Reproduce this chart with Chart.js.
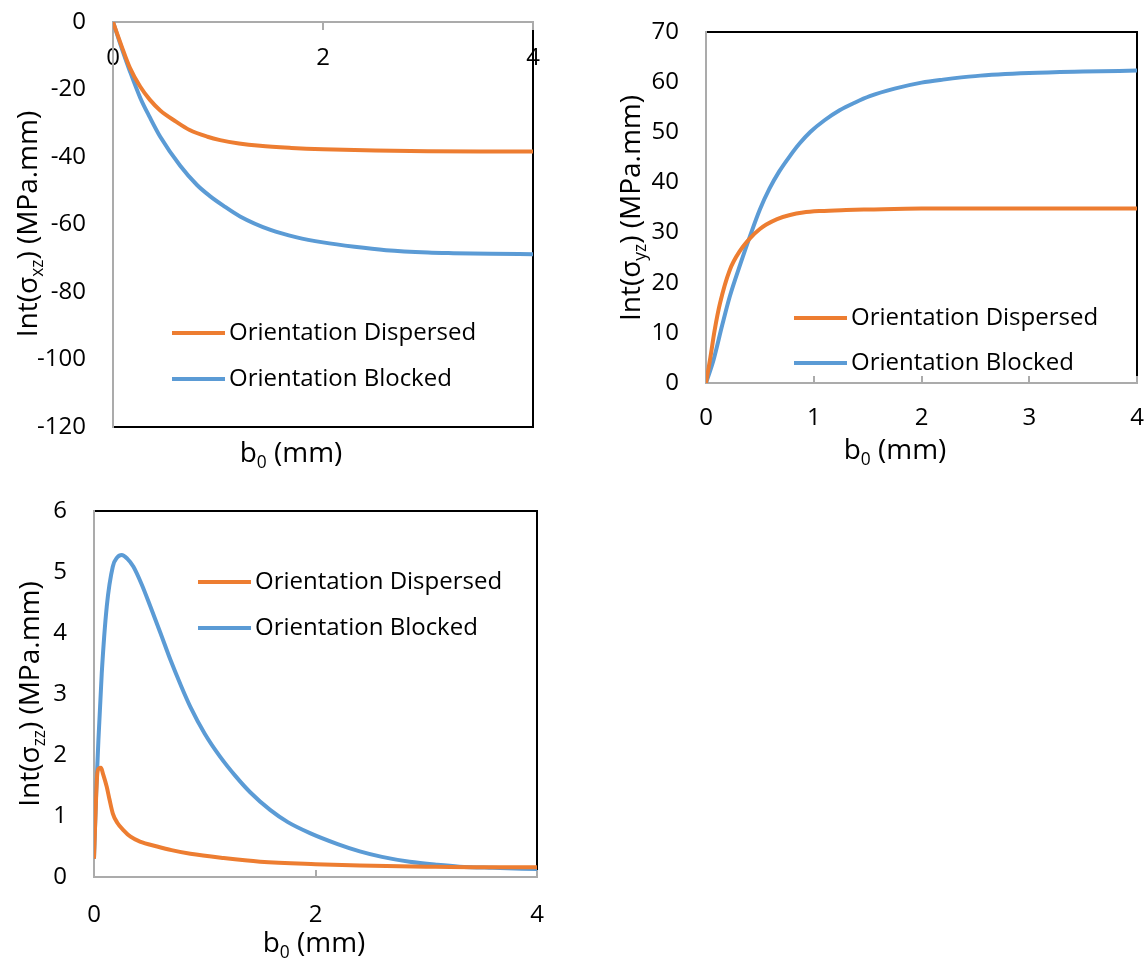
<!DOCTYPE html>
<html>
<head>
<meta charset="utf-8">
<script src="https://cdn.jsdelivr.net/npm/chart.js@4.4.1/dist/chart.umd.min.js"></script>
<style>
  body { margin: 0; background: #fff; width: 1148px; height: 959px; position: relative; overflow: hidden; }
  canvas { position: absolute; }
</style>
</head>
<body>
<canvas id="xzChart" width="560" height="470" style="left:0;top:0"></canvas>
<canvas id="yzChart" width="568" height="470" style="left:580px;top:0"></canvas>
<canvas id="zzChart" width="560" height="469" style="left:0;top:490px"></canvas>
<script>
// series labels
const seriesLabels = ['Orientation Dispersed', 'Orientation Blocked'];

// Int(sigma_xz)
const xzDispX = [0, 0.08, 0.16, 0.26, 0.35, 0.45, 0.6, 0.73, 0.9, 1.02, 1.2, 1.4, 1.7, 2.0, 2.5, 3.0, 3.5, 4.0];
const xzDispY = [0, -7, -13.5, -19.2, -23, -26.2, -29.5, -32, -34, -35, -36, -36.7, -37.3, -37.7, -38.1, -38.3, -38.4, -38.4];
const xzBlockX = [0, 0.08, 0.16, 0.26, 0.35, 0.45, 0.64, 0.8, 0.92, 1.05, 1.21, 1.5, 1.75, 2.0, 2.3, 2.6, 3.0, 3.24, 3.6, 4.0];
const xzBlockY = [0, -7.5, -14.5, -22.5, -28.2, -34, -42.6, -48.3, -51.5, -54.4, -57.6, -61.6, -63.8, -65.3, -66.6, -67.6, -68.3, -68.5, -68.7, -68.8];

// Int(sigma_yz)
const yzDispX = [0, 0.04, 0.08, 0.13, 0.22, 0.32, 0.41, 0.5, 0.56, 0.66, 0.78, 0.9, 1.06, 1.3, 1.5, 2.0, 2.5, 3.0, 3.5, 4.0];
const yzDispY = [0, 5, 10.5, 15.9, 22.5, 26.5, 28.9, 30.7, 31.6, 32.7, 33.5, 34.0, 34.3, 34.5, 34.6, 34.8, 34.8, 34.8, 34.8, 34.8];
const yzBlockX = [0, 0.07, 0.15, 0.22, 0.32, 0.41, 0.5, 0.59, 0.68, 0.78, 0.87, 0.97, 1.1, 1.24, 1.38, 1.52, 1.75, 2.0, 2.2, 2.5, 3.0, 3.5, 4.0];
const yzBlockY = [0, 4.6, 11.5, 17.2, 23.8, 29.4, 34.6, 38.8, 42.2, 45.3, 47.8, 50.1, 52.4, 54.4, 55.9, 57.2, 58.7, 59.9, 60.5, 61.2, 61.8, 62.1, 62.3];

// Int(sigma_zz)
const zzDispX = [0, 0.02, 0.03, 0.045, 0.063, 0.08, 0.115, 0.14, 0.17, 0.21, 0.265, 0.33, 0.415, 0.57, 0.7, 0.87, 1.17, 1.5, 2.0, 2.4, 3.0, 3.5, 4.0];
const zzDispY = [0.3, 1.35, 1.7, 1.78, 1.79, 1.7, 1.48, 1.27, 1.04, 0.89, 0.77, 0.66, 0.58, 0.5, 0.44, 0.38, 0.31, 0.25, 0.21, 0.19, 0.17, 0.16, 0.16];
const zzBlockX = [0, 0.02, 0.04, 0.07, 0.115, 0.17, 0.21, 0.25, 0.3, 0.355, 0.43, 0.51, 0.6, 0.69, 0.78, 0.87, 1.0, 1.14, 1.28, 1.41, 1.59, 1.75, 1.95, 2.2, 2.4, 2.6, 2.85, 3.1, 3.3, 3.6, 4.0];
const zzBlockY = [0.3, 1.4, 2.25, 3.34, 4.43, 5.09, 5.24, 5.28, 5.22, 5.09, 4.8, 4.43, 4.0, 3.56, 3.16, 2.79, 2.35, 1.97, 1.65, 1.39, 1.1, 0.9, 0.72, 0.54, 0.42, 0.33, 0.25, 0.2, 0.17, 0.15, 0.13];

const ORANGE = '#ED7D31';
const BLUE = '#5B9BD5';
const AXIS_GRAY = '#ABABAB';
const FONT = 'Open Sans';

Chart.defaults.font.family = FONT;
Chart.defaults.color = '#000';

const toPoints = (xs, ys) => xs.map((x, i) => ({ x: x, y: ys[i] }));

function drawRich(ctx, parts, cx, cy, size, vertical) {
    ctx.save();
    ctx.translate(cx, cy);
    if (vertical) ctx.rotate(-Math.PI / 2);
    let total = 0;
    parts.forEach(p => {
        ctx.font = (p.sub ? size * 0.62 : size) + 'px "' + FONT + '"';
        total += ctx.measureText(p.t).width;
    });
    let x = -total / 2;
    ctx.fillStyle = '#000';
    ctx.textBaseline = 'alphabetic';
    parts.forEach(p => {
        ctx.font = (p.sub ? size * 0.62 : size) + 'px "' + FONT + '"';
        ctx.fillText(p.t, x, size * 0.36 + (p.sub ? size * 0.2 : 0));
        x += ctx.measureText(p.t).width;
    });
    ctx.restore();
}

// plot frame, legend and axis titles
const decor = {
    id: 'decor',
    beforeDraw(chart) {
        const { ctx, chartArea: a } = chart;
        ctx.save();
        ctx.strokeStyle = '#000';
        ctx.lineWidth = 2;
        ctx.strokeRect(a.left, a.top, a.right - a.left, a.bottom - a.top);
        ctx.restore();
    },
    afterDraw(chart, args, opts) {
        const ctx = chart.ctx;
        const lg = opts.legend;
        ctx.save();
        chart.data.datasets.forEach((ds, i) => {
            const y = lg.y + i * lg.step;
            ctx.strokeStyle = ds.borderColor;
            ctx.lineWidth = 4;
            ctx.beginPath();
            ctx.moveTo(lg.x, y);
            ctx.lineTo(lg.x + 53, y);
            ctx.stroke();
            ctx.fillStyle = '#000';
            ctx.font = lg.size + 'px "' + FONT + '"';
            ctx.textBaseline = 'middle';
            ctx.fillText(ds.label, lg.x + 57, y);
        });
        ctx.restore();
        drawRich(ctx, opts.xTitle.parts, opts.xTitle.x, opts.xTitle.y, 28, false);
        drawRich(ctx, opts.yTitle.parts, opts.yTitle.x, opts.yTitle.y, 28, true);
    }
};

function makeChart(id, cfg) {
    const ctx = document.getElementById(id).getContext('2d');
    return new Chart(ctx, {
        type: 'line',
        data: {
            datasets: [
                { label: seriesLabels[0], data: cfg.disp, borderColor: ORANGE },
                { label: seriesLabels[1], data: cfg.block, borderColor: BLUE }
            ]
        },
        options: {
            responsive: false,
            animation: false,
            layout: { padding: cfg.padding },
            elements: {
                point: { radius: 0 },
                line: { borderWidth: 4, cubicInterpolationMode: 'monotone', fill: false }
            },
            scales: {
                x: Object.assign({
                    type: 'linear',
                    min: 0, max: 4,
                    ticks: { stepSize: cfg.xStep, font: { size: 24 }, padding: cfg.xPad, maxRotation: 0 },
                    grid: { drawOnChartArea: false, color: AXIS_GRAY, lineWidth: 2, tickLength: cfg.tickLen },
                    border: { color: AXIS_GRAY, width: 2 },
                    afterFit: (s) => {
                        if (cfg.xHeight) s.height = cfg.xHeight;
                        s.paddingLeft = 0; s.paddingRight = 0;
                    }
                }, cfg.xPos ? { position: cfg.xPos } : {}),
                y: {
                    min: cfg.yMin, max: cfg.yMax,
                    ticks: { stepSize: cfg.yStep, font: { size: 24 }, padding: 27 },
                    grid: { display: false, drawTicks: false },
                    border: { color: AXIS_GRAY, width: 2 },
                    afterFit: (s) => {
                        s.width = cfg.yWidth;
                        s.paddingTop = 0; s.paddingBottom = 0;
                    }
                }
            },
            plugins: {
                legend: { display: false },
                tooltip: { enabled: false },
                decor: { legend: cfg.legend, xTitle: cfg.xTitle, yTitle: cfg.yTitle }
            }
        },
        plugins: [decor]
    });
}

const bTitle = [{ t: 'b' }, { t: '0', sub: true }, { t: ' (mm)' }];

makeChart('xzChart', {
    disp: toPoints(xzDispX, xzDispY),
    block: toPoints(xzBlockX, xzBlockY),
    padding: { top: 22, right: 27, bottom: 43, left: 0 },
    xPos: { y: 0 }, xStep: 2, xPad: 14.6, tickLen: 7,
    yMin: -120, yMax: 0, yStep: 20, yWidth: 113,
    legend: { x: 172, y: 333, step: 46, size: 24 },
    xTitle: { parts: bTitle, x: 291, y: 452 },
    yTitle: { parts: [{ t: 'Int(σ' }, { t: 'xz', sub: true }, { t: ') (MPa.mm)' }], x: 27, y: 224 }
});

makeChart('yzChart', {
    disp: toPoints(yzDispX, yzDispY),
    block: toPoints(yzBlockX, yzBlockY),
    padding: { top: 32, right: 11, bottom: 0, left: 0 },
    xStep: 1, xPad: 27.6, tickLen: -7, xHeight: 87,
    yMin: 0, yMax: 70, yStep: 10, yWidth: 126,
    legend: { x: 214, y: 318, step: 45, size: 24 },
    xTitle: { parts: bTitle, x: 315, y: 449 },
    yTitle: { parts: [{ t: 'Int(σ' }, { t: 'yz', sub: true }, { t: ') (MPa.mm)' }], x: 50, y: 208 }
});

makeChart('zzChart', {
    disp: toPoints(zzDispX, zzDispY),
    block: toPoints(zzBlockX, zzBlockY),
    padding: { top: 21, right: 23, bottom: 0, left: 0 },
    xStep: 2, xPad: 30.6, tickLen: -7, xHeight: 82,
    yMin: 0, yMax: 6, yStep: 1, yWidth: 94,
    legend: { x: 198, y: 92, step: 46, size: 24 },
    xTitle: { parts: bTitle, x: 314, y: 452 },
    yTitle: { parts: [{ t: 'Int(σ' }, { t: 'zz', sub: true }, { t: ') (MPa.mm)' }], x: 29, y: 204 }
});
</script>
</body>
</html>
